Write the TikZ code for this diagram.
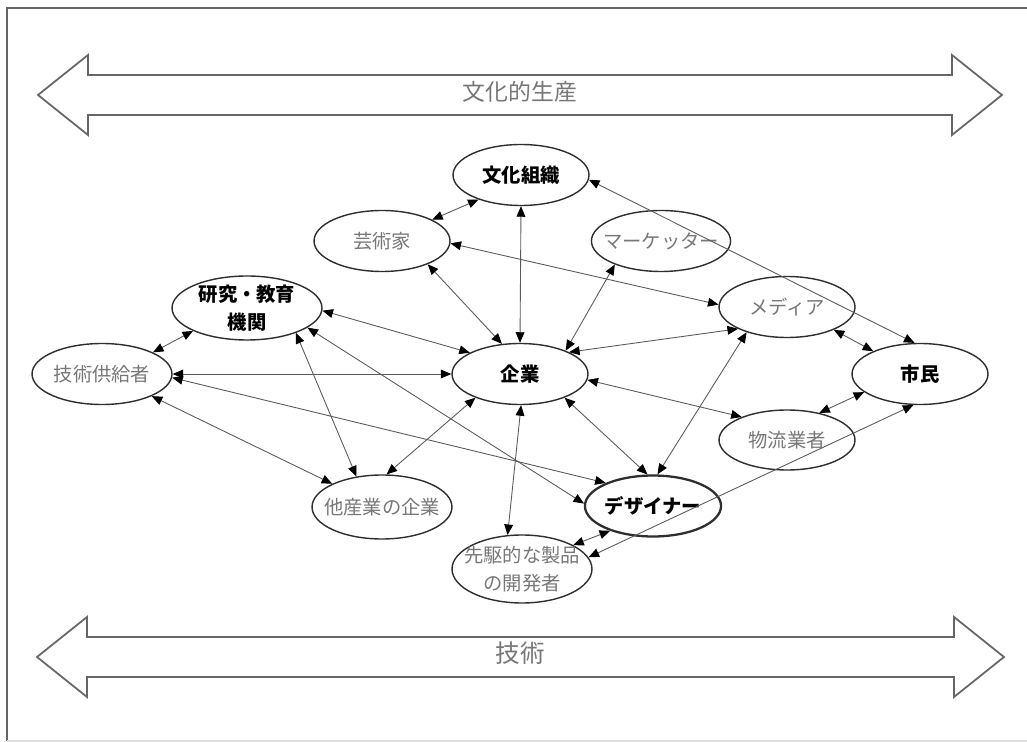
\documentclass[tikz,border=0pt]{standalone}
\usepackage{fontspec}
\setmainfont{Noto Sans CJK JP}
\definecolor{inkline}{HTML}{2E2E2E}
\definecolor{linkgray}{HTML}{5A5A5A}
\definecolor{softtext}{HTML}{777777}
\definecolor{framegray}{HTML}{666666}
\usetikzlibrary{arrows.meta, shapes.geometric}
\tikzset{
  actor/.style={
    ellipse, draw=inkline, line width=0.8pt, inner sep=0pt,
    minimum width=2.72cm, minimum height=1.22cm,
    font=\fontsize{11}{16}\selectfont, text=softtext, align=center
  },
  hub/.style={
    actor, text=black, font=\fontsize{11}{16}\selectfont\bfseries
  },
  link/.style={
    {Triangle[length=6pt,width=5pt,color=black]}-{Triangle[length=6pt,width=5pt,color=black]},
    draw=linkgray, line width=0.5pt
  },
  band/.style={draw=framegray, line width=1pt, fill=white},
  bandtext/.style={font=\fontsize{13}{16}\selectfont, text=softtext},
}

\begin{document}
\begin{tikzpicture}[x=0.02cm, y=-0.02cm]
    \useasboundingbox (0,0) rectangle (1027,742);
    \draw[framegray, line width=1.1pt] (7,741) -- (7,8) -- (1027,8);
    \draw[black!12, line width=0.6pt] (7,741) -- (1027,741);

    \draw[band] (38,95) -- (88,55) -- (88,75) -- (952,75) -- (952,55) -- (1002,95)
      -- (952,135) -- (952,115) -- (88,115) -- (88,135) -- cycle;
    \node[bandtext] (culture) at (520,92) {文化的生産};

    \draw[band] (37,657) -- (87,617) -- (87,637) -- (954,637) -- (954,617) -- (1004,657)
      -- (954,697) -- (954,677) -- (87,677) -- (87,697) -- cycle;
    \node[bandtext, font=\fontsize{14}{16}\selectfont] (tech) at (520,653) {技術};

    \node[hub] (org) at (521,175) {文化組織};
    \node[actor] (artist) at (382,241) {芸術家};
    \node[actor, minimum width=2.76cm, inner sep=-5pt] (marketer) at (661,241) {マーケッター};
    \node[hub, minimum width=3cm, minimum height=1.28cm, inner sep=-1.5pt] (research) at (247,308)
      {研究・教育\\機関};
    \node[actor, minimum width=2.8cm] (supplier) at (102,374) {技術供給者};
    \node[actor, minimum width=2.8cm, minimum height=1.28cm, inner sep=-5pt] (otherfirm) at (382,507)
      {他産業の企業};
    \node[hub] (firm) at (520,374) {企業};
    \node[actor] (media) at (787,307) {メディア};
    \node[hub] (citizen) at (920,374) {市民};
    \node[actor, minimum height=1.2cm] (logistics) at (787,440) {物流業者};
    \node[hub, line width=1.3pt] (designer) at (653,506) {デザイナー};
    \node[actor, minimum width=2.8cm, minimum height=1.36cm, inner sep=-5pt] (pioneer) at (522,569)
      {先駆的な製品\\の開発者};

    \draw[link] (org.210) -- (artist.23);
    \draw[link] (org.south) -- (firm.north);
    \draw[link] (org.356) -- (citizen.100);
    \draw[link] (artist.358) -- (media.178);
    \draw[link] (artist.333) -- (firm.121);
    \draw[link] (marketer.207) -- (firm.27);
    \draw[link] (media.204) -- (firm.24);
    \draw[link] (media.212) -- (designer.82);
    \draw[link] (media.334) -- (citizen.154);
    \draw[link] (citizen.198) -- (logistics.40);
    \draw[link] (citizen.258) -- (pioneer.10);
    \draw[link] (firm.355) -- (logistics.153);
    \draw[link] (firm.332) -- (designer.100);
    \draw[link] (firm.272) -- (pioneer.113);
    \draw[link] (firm.208) -- (otherfirm.82);
    \draw[link] (firm.157) -- (research.358);
    \draw[link] (firm.west) -- (supplier.east);
    \draw[link] (research.203) -- (supplier.23);
    \draw[link] (research.333) -- (otherfirm.130);
    \draw[link] (research.342) -- (designer.178);
    \draw[link] (supplier.357) -- (designer.154);
    \draw[link] (supplier.336) -- (otherfirm.155);
    \draw[link] (designer.210) -- (pioneer.25);
  \end{tikzpicture}
\end{document}
